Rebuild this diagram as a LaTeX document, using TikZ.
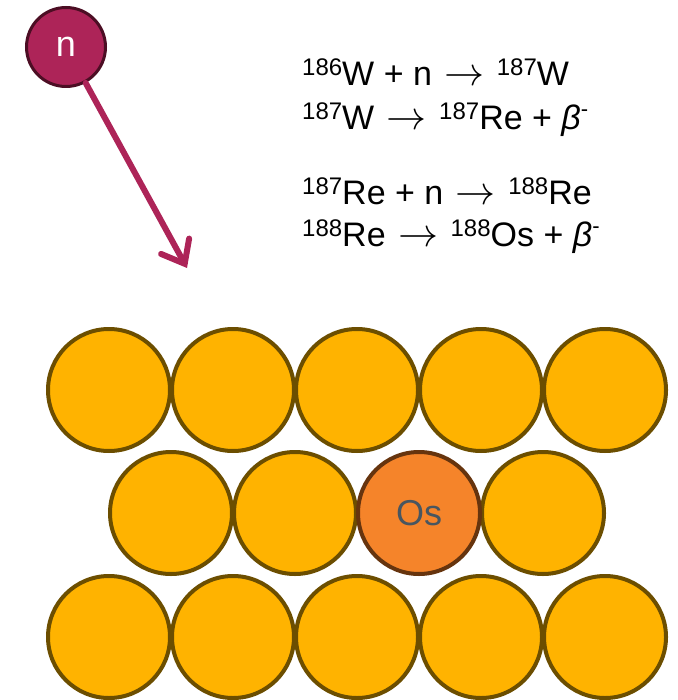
\documentclass[tikz,border=0pt]{standalone}
\usepackage{fontspec}
\setmainfont{Liberation Sans}
\usepackage{tikz}
\usetikzlibrary{arrows.meta,positioning}
\definecolor{atomfill}{RGB}{255,179,0}
\definecolor{atomline}{RGB}{108,78,0}
\definecolor{osfill}{RGB}{245,132,42}
\definecolor{osline}{RGB}{102,52,14}
\definecolor{ostext}{RGB}{72,86,96}
\definecolor{nfill}{RGB}{173,36,88}
\definecolor{nline}{RGB}{76,14,36}
\newcommand{\iso}[2]{{\fontsize{24}{24}\selectfont\raisebox{10pt}{#1}}#2}
\newcommand{\betam}{{\itshape β}\raisebox{13pt}{\fontsize{22}{22}\selectfont -}}
\newcommand{\yields}{\hspace{3pt}{\fontsize{10}{10}\selectfont\scalebox{4}{$\rightarrow$}}\hspace{3pt}}
\tikzset{
  atom/.style={circle, draw=atomline, fill=atomfill, line width=4pt,
               minimum size=122pt, inner sep=0pt},
  osatom/.style={atom, draw=osline, fill=osfill, text=ostext,
                 font=\fontsize{36}{36}\selectfont},
  neutron/.style={circle, draw=nline, fill=nfill, line width=3pt, text=white,
                  minimum size=79pt, inner sep=0pt, font=\fontsize{36}{36}\selectfont},
  eqn/.style={anchor=base west, inner sep=0pt, font=\fontsize{34}{34}\selectfont},
  narr/.style={-{Straight Barb[length=20pt, width=32pt, line cap=round]},
               draw=nfill, line width=6pt, line cap=round}
}
\begin{document}
\begin{tikzpicture}[x=1pt, y=-1pt]
  \useasboundingbox (0,0) rectangle (677,700);
  % neutron and its path
  \node[neutron] (n) at (66,47) {n};
  \coordinate (tip) at (187,268);
  \draw[narr] (n) -- (tip);
  % reactions
  \node[eqn] (eqa) at (302,86) {\iso{186}{W} + n \yields{} \iso{187}{W}};
  \node[eqn] (eqb) at (302,130) {\iso{187}{W} \yields{} \iso{187}{Re} + \betam};
  \node[eqn] (eqc) at (302,205) {\iso{187}{Re} + n \yields{} \iso{188}{Re}};
  \node[eqn] (eqd) at (302,247) {\iso{188}{Re} \yields{} \iso{188}{Os} + \betam};
  % lattice
  \foreach \i in {0,...,4} {
    \node[atom] (top\i) at (109+124*\i,390) {};
    \node[atom] (bot\i) at (109+124*\i,637) {};
  }
  \foreach \i in {0,1,3} \node[atom] (mid\i) at (171+124*\i,513) {};
  \node[osatom] (os) at (419,513) {Os};
\end{tikzpicture}
\end{document}
